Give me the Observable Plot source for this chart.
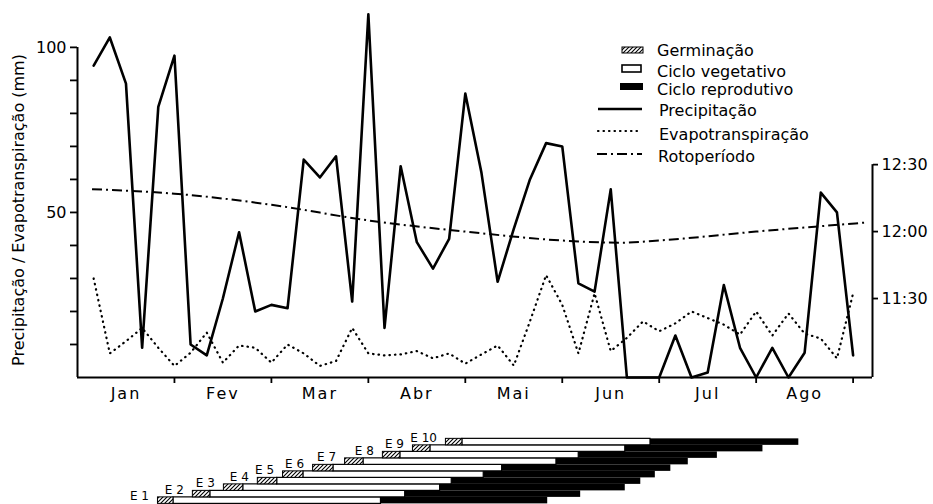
<!DOCTYPE html>
<html>
<head>
<meta charset="utf-8">
<script src="https://cdn.jsdelivr.net/npm/d3@7"></script>
<script src="https://cdn.jsdelivr.net/npm/@observablehq/plot@0.6"></script>
<style>
  html, body { margin: 0; padding: 0; background: #fff; }
  svg { display: block; }
</style>
</head>
<body>
<div id="chart"></div>
<script>
// ---------- data ----------
const months = ["Jan", "Fev", "Mar", "Abr", "Mai", "Jun", "Jul", "Ago"];

// pentad values (mm), Jan..Ago (6 pentads per month)
const precipitacao = [
  94.5, 103, 89, 9, 82, 97.5,
  10, 6.7, 24, 44, 20, 22,
  21, 66, 60.6, 67, 23, 110,
  15, 64, 41, 33, 42, 86,
  62, 29, 45, 60, 71, 70,
  28.5, 26, 57, 0, 0, 0,
  12.7, 0, 1.5, 28, 9, 0,
  9, 0, 7.5, 56, 50, 6.7
];
const evapotranspiracao = [
  30, 7.3, 11, 15, 9, 3.5,
  7.5, 13.6, 4.5, 9.7, 9, 4.5,
  10, 7.3, 3.5, 5, 15, 7.3,
  6.7, 7, 8, 5.8, 7.3, 4.2,
  7, 9.7, 3.6, 17, 31, 22,
  7.3, 25.5, 8, 12, 17, 14,
  16.4, 20, 18, 16, 13, 20,
  12.7, 19.4, 13.3, 11.8, 5.8, 25.5
];

// photoperiod (month position, hh:mm)
const fotoMes  = [0.15, 1, 2, 3, 4, 5, 5.6, 6, 7, 8.12];
const fotoHora = ["12:19", "12:17", "12:12", "12:05", "12:00", "11:56", "11:55", "11:56", "12:00", "12:04"];

// sowing epochs (month positions)
const epocas      = ["E 1", "E 2", "E 3", "E 4", "E 5", "E 6", "E 7", "E 8", "E 9", "E 10"];
const germInicio  = [0.83, 1.19, 1.51, 1.86, 2.12, 2.43, 2.76, 3.15, 3.46, 3.80];
const germFim     = [0.99, 1.37, 1.71, 2.06, 2.33, 2.64, 2.95, 3.33, 3.64, 3.97];
const reprInicio  = [3.13, 3.38, 3.74, 3.86, 4.19, 4.38, 4.94, 5.17, 5.65, 5.91];
const reprFim     = [4.85, 5.19, 5.65, 5.81, 5.96, 6.12, 6.30, 6.60, 7.07, 7.44];

const leftTicks   = [10, 20, 30, 40, 50, 60, 70, 80, 90, 100];
const leftLabels  = [50, 100];
const rightTicks  = ["11:30", "12:00", "12:30"];

const yTitle = "Precipitação / Evapotranspiração (mm)";
const legendItems = ["Germinação", "Ciclo vegetativo", "Ciclo reprodutivo", "Precipitação", "Evapotranspiração", "Rotoperíodo"];

// ---------- helpers ----------
const toMin = s => { const [h, m] = s.split(":").map(Number); return h * 60 + m; };
const fotoToY = s => 44.2 + 0.676 * (toMin(s) - 720);          // secondary axis mapping
const yToFoto = v => {
  const m = Math.round(720 + (v - 44.2) / 0.676);
  return `${Math.floor(m / 60)}:${String(m % 60).padStart(2, "0")}`;
};

const pent = precipitacao.map((p, i) => ({ t: (i + 1) / 6, p, e: evapotranspiracao[i] }));
const foto = fotoMes.map((t, i) => ({ t, v: fotoToY(fotoHora[i]) }));
const rowH = 1.97;
const gantt = epocas.map((label, k) => ({
  label, y: -37.3 + rowH * k,
  g0: germInicio[k], g1: germFim[k], r0: reprInicio[k], r1: reprFim[k]
}));
const ry1 = d => d.y - rowH / 2, ry2 = d => d.y + rowH / 2;

// ---------- plot ----------
const plot = Plot.plot({
  width: 933,
  height: 504,
  marginLeft: 77,
  marginRight: 61,
  marginTop: 0,
  marginBottom: 127,
  style: { fontFamily: "DejaVu Sans", fontSize: "16px", color: "#000", background: "#fff", overflow: "visible" },
  x: { domain: [0, 8.2] },
  y: { domain: [0, 114.2] },
  marks: [
    Plot.axisY({ ticks: leftTicks, tickFormat: d => leftLabels.includes(d) ? String(d) : "", tickSize: 7, tickPadding: 4, strokeWidth: 1.8, label: null }),
    Plot.axisY({ anchor: "right", ticks: rightTicks.map(fotoToY), tickFormat: yToFoto, tickSize: 5, tickPadding: 4, strokeWidth: 1.8, label: null }),
    Plot.axisX({ ticks: d3.range(1, 9), tickFormat: () => "", tickSize: 6, strokeWidth: 1.8, label: null }),
    Plot.axisX({ ticks: d3.range(0.5, 8, 1), tickFormat: d => months[Math.floor(d)], tickSize: 0, tickPadding: 10, label: null }),
    Plot.ruleY([0], { strokeWidth: 2 }),
    Plot.ruleX([0], { y1: 0, y2: 100, strokeWidth: 2 }),
    Plot.ruleX([8.2], { y1: 0, y2: fotoToY("12:30"), strokeWidth: 2 }),
    Plot.text([yTitle], { frameAnchor: "left", textAnchor: "middle", rotate: -90, dx: -59, dy: 21, fontSize: 16 }),
    Plot.line(pent, { x: "t", y: "e", stroke: "#000", strokeWidth: 2.2, strokeDasharray: "0.5,5", strokeLinecap: "round" }),
    Plot.line(foto, { x: "t", y: "v", curve: "monotone-x", stroke: "#000", strokeWidth: 2, strokeDasharray: "10,4,2,4", strokeLinecap: "butt" }),
    Plot.line(pent, { x: "t", y: "p", stroke: "#000", strokeWidth: 2.6 }),
    // epochs
    Plot.rect(gantt, { x1: "g1", x2: "r0", y1: ry1, y2: ry2, fill: "#fff", stroke: "#000", strokeWidth: 1.2 }),
    Plot.rect(gantt, { x1: "r0", x2: "r1", y1: ry1, y2: ry2, fill: "#000" }),
    Plot.rect(gantt, { x1: "g0", x2: "g1", y1: ry1, y2: ry2, fill: "url(#hatch)", stroke: "#000", strokeWidth: 1 }),
    Plot.text(gantt, { x: "g0", y: "y", text: "label", textAnchor: "end", dx: -9, dy: -4, fontSize: 12 })
  ]
});

// hatch pattern + legend
const svg = d3.select(plot);
const defs = svg.insert("defs", ":first-child");
const pat = defs.append("pattern").attr("id", "hatch").attr("patternUnits", "userSpaceOnUse").attr("width", 4).attr("height", 4);
pat.append("rect").attr("width", 4).attr("height", 4).attr("fill", "#fff");
pat.append("path").attr("d", "M-1,1 l2,-2 M0,4 l4,-4 M3,5 l2,-2").attr("stroke", "#000").attr("stroke-width", 1.1);

svg.selectAll("g[aria-label='x-axis tick label'] text").attr("letter-spacing", "2px");

const lg = svg.append("g").attr("font-family", "DejaVu Sans").attr("font-size", 16).attr("fill", "#000").attr("text-anchor", "start");
lg.append("rect").attr("x", 622).attr("y", 47).attr("width", 21).attr("height", 6).attr("fill", "url(#hatch)").attr("stroke", "#000").attr("stroke-width", 1);
lg.append("rect").attr("x", 622).attr("y", 65).attr("width", 19).attr("height", 7).attr("fill", "#fff").attr("stroke", "#000").attr("stroke-width", 1.6);
lg.append("rect").attr("x", 620).attr("y", 83).attr("width", 23).attr("height", 7).attr("fill", "#000");
lg.append("line").attr("x1", 598).attr("x2", 642).attr("y1", 109).attr("y2", 109).attr("stroke", "#000").attr("stroke-width", 2.4);
lg.append("line").attr("x1", 598).attr("x2", 642).attr("y1", 131).attr("y2", 131).attr("stroke", "#000").attr("stroke-width", 2.2).attr("stroke-dasharray", "0.5,5").attr("stroke-linecap", "round");
lg.append("line").attr("x1", 597).attr("x2", 642).attr("y1", 154).attr("y2", 154).attr("stroke", "#000").attr("stroke-width", 2).attr("stroke-dasharray", "10,4,2,4");
const tx = [657, 657, 657, 659, 659, 658];
const ty = [56, 77, 95, 116, 140, 162];
legendItems.forEach((s, i) => lg.append("text").attr("x", tx[i]).attr("y", ty[i]).attr("text-anchor", "start").text(s));

document.getElementById("chart").appendChild(plot);
</script>
</body>
</html>
